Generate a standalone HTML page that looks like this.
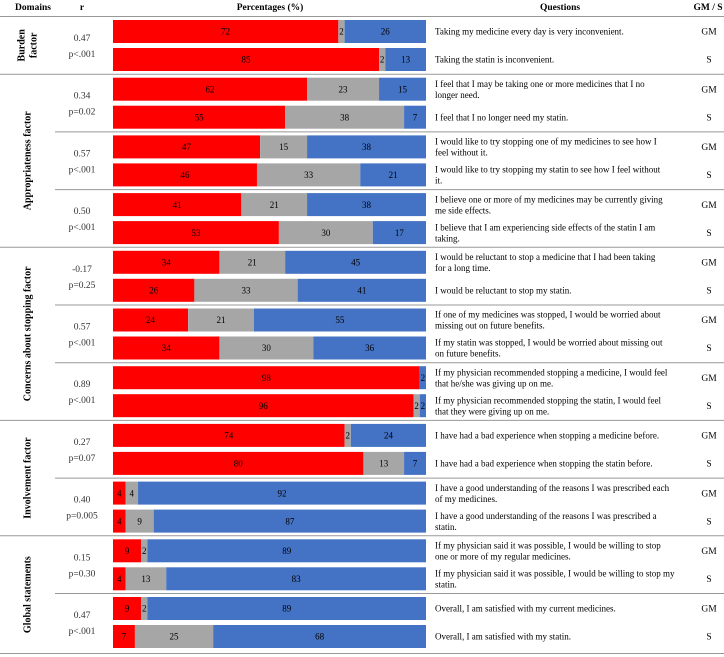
<!DOCTYPE html>
<html><head><meta charset="utf-8">
<style>
body{margin:0;background:#fff;}
svg{display:block;font-family:"Liberation Serif",serif;}
</style></head>
<body>
<svg id="chart" width="724" height="657"></svg>
<script>
const agree=[72,85,62,55,47,46,41,53,34,26,24,34,98,96,74,80,4,4,9,4,9,7];
const neutral=[2,2,23,38,15,33,21,30,21,33,21,30,0,2,2,13,4,9,2,13,2,25];
const disagree=[26,13,15,7,38,21,38,17,45,41,55,36,2,2,24,7,92,87,89,83,89,68];
const types=["GM","S","GM","S","GM","S","GM","S","GM","S","GM","S","GM","S","GM","S","GM","S","GM","S","GM","S"];
const questions=[
["Taking my medicine every day is very inconvenient."],
["Taking the statin is inconvenient."],
["I feel that I may be taking one or more medicines that I no","longer need."],
["I feel that I no longer need my statin."],
["I would like to try stopping one of my medicines to see how I","feel without it."],
["I would like to try stopping my statin to see how I feel without","it."],
["I believe one or more of my medicines may be currently giving","me side effects."],
["I believe that I am experiencing side effects of the statin I am","taking."],
["I would be reluctant to stop a medicine that I had been taking","for a long time."],
["I would be reluctant to stop my statin."],
["If one of my medicines was stopped, I would be worried about","missing out on future benefits."],
["If my statin was stopped, I would be worried about missing out","on future benefits."],
["If my physician recommended stopping a medicine, I would feel","that he/she was giving up on me."],
["If my physician recommended stopping the statin, I would feel","that they were giving up on me."],
["I have had a bad experience when stopping a medicine before."],
["I have had a bad experience when stopping the statin before."],
["I have a good understanding of the reasons I was prescribed each","of my medicines."],
["I have a good understanding of the reasons I was prescribed a","statin."],
["If my physician said it was possible, I would be willing to stop","one or more of my regular medicines."],
["If my physician said it was possible, I would be willing to stop my","my statin."],
["Overall, I am satisfied with my current medicines."],
["Overall, I am satisfied with my statin."]
];
questions[19]=["If my physician said it was possible, I would be willing to stop my","statin."];
const rVals=["0.47","0.34","0.57","0.50","-0.17","0.57","0.89","0.27","0.40","0.15","0.47"];
const pVals=["p<.001","p=0.02","p<.001","p<.001","p=0.25","p<.001","p<.001","p=0.07","p=0.005","p=0.30","p<.001"];
const domains=[["Burden","factor"],["Appropriateness factor"],["Concerns about stopping factor"],["Involvement factor"],["Global statements"]];
const domainPairs=[1,3,3,2,2];

const svg=document.getElementById('chart');
const NS='http://www.w3.org/2000/svg';
function mk(tag,attrs,txt){const e=document.createElementNS(NS,tag);for(const k in attrs)e.setAttribute(k,attrs[k]);if(txt!==undefined)e.textContent=txt;svg.appendChild(e);return e;}
const X0=113,W=313;
const xs=v=>v/100*W;
const rowTop=i=>20+Math.floor(i/2)*57.7+(i%2)*28;
const BH=23;

// header
const heads=[["Domains",33],["r",82],["Percentages (%)",270],["Questions",560],["GM / S",708]];
heads.forEach(h=>{const t=mk('text',{x:h[1],y:10,'text-anchor':'middle','font-size':'9.5','font-weight':'bold'},h[0]);

});
const l0=mk('line',{x1:0,x2:724,y1:16.5,y2:16.5,stroke:'#999','stroke-width':1});



// rows
for(let i=0;i<agree.length;i++){
  const y=rowTop(i);let x=X0;
  const segs=[[agree[i],'#ff0000'],[neutral[i],'#a6a6a6'],[disagree[i],'#4472c4']];
  segs.forEach((s,k)=>{
    if(s[0]<=0)return;
    const w=xs(s[0]);
    const r=mk('rect',{x:x,y:y,width:w,height:BH,fill:s[1]});
    
    
    const t=mk('text',{x:x+w/2,y:y+BH/2+3.2,'text-anchor':'middle','font-size':'9',fill:'#000'},String(s[0]));
    
    
    x+=w;
  });
  const q=questions[i];const cy=y+BH/2;
  q.forEach((line,j)=>{
    const t=mk('text',{x:435,y:cy+3.2+(j-(q.length-1)/2)*11,'font-size':'9',fill:'#000'},line);
    
    
  });
  const g=mk('text',{x:709,y:cy+3.2,'text-anchor':'middle','font-size':'9.5'},types[i]);
  
  
}
// r values
for(let p=0;p<rVals.length;p++){
  const y=rowTop(2*p);
  const a=mk('text',{x:82,y:y+21,'text-anchor':'middle','font-size':'9.5',fill:'#333'},rVals[p]);
  
  
  const b=mk('text',{x:82,y:y+37,'text-anchor':'middle','font-size':'9.5',fill:'#333'},pVals[p]);
  
  
}
// separators and domains
let pair=0;
domains.forEach((d,di)=>{
  const n=domainPairs[di];
  const top=rowTop(2*pair)-3.5, bot=rowTop(2*(pair+n))-3.5;
  for(let k=1;k<n;k++){
    const yy=rowTop(2*(pair+k))-3.5;
    const l=mk('line',{x1:55,x2:724,y1:yy,y2:yy,stroke:'#999','stroke-width':1});
    
    
  }
  const yb=di===domains.length-1?653.5:bot;
  const l=mk('line',{x1:0,x2:724,y1:yb,y2:yb,stroke:'#999','stroke-width':1});
  
  
  const cy=(top+yb)/2;
  d.forEach((line,j)=>{
    const xx=28+(j-(d.length-1)/2)*12;
    const t=mk('text',{x:xx,y:cy,'text-anchor':'middle','font-size':'10','font-weight':'bold',transform:`rotate(-90 ${xx} ${cy})`,'dominant-baseline':'central'},line);
    
    
  });
  pair+=n;
});
</script>
</body></html>
